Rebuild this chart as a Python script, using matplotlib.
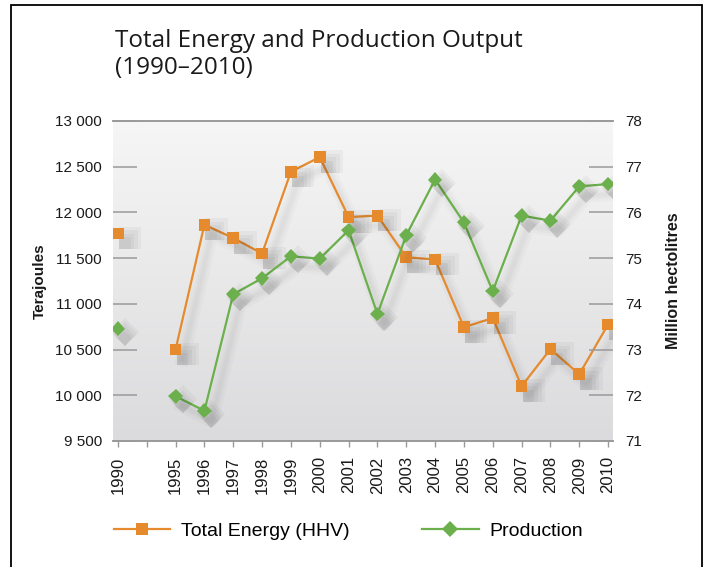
import numpy as np
import matplotlib
matplotlib.use("Agg")
import matplotlib.pyplot as plt
import matplotlib.patheffects as pe
from matplotlib.ticker import FuncFormatter, FixedLocator
from matplotlib.lines import Line2D
from matplotlib.patches import Rectangle
from matplotlib.colors import LinearSegmentedColormap
from matplotlib.transforms import Affine2D

plt.rcParams['font.family'] = ['Liberation Sans', 'DejaVu Sans']

# ---- data ----
years = ["1990", "", "1995", "1996", "1997", "1998", "1999", "2000", "2001",
         "2002", "2003", "2004", "2005", "2006", "2007", "2008", "2009", "2010"]
energy = [11770, np.nan, 10500, 11865, 11720, 11550, 12445, 12605, 11950,
          11965, 11510, 11485, 10745, 10845, 10100, 10505, 10230, 10775]
production = [73.46, np.nan, 71.98, 71.66, 74.21, 74.56, 75.04, 74.99, 75.61,
              73.78, 75.50, 76.72, 75.78, 74.28, 75.93, 75.82, 76.57, 76.62]
left_ticks = [9500, 10000, 10500, 11000, 11500, 12000, 12500, 13000]
right_ticks = [71, 72, 73, 74, 75, 76, 77, 78]

orange = "#E68A2E"
green = "#6BB04C"
grid_gray = "#9a9a9a"
text_col = "#1a1a1a"


class SoftShadow(pe.AbstractPathEffect):
    """Blurred drop shadow for markers: nested, scaled, translucent fills."""

    def __init__(self, offset=(5, -7), scales=(1.0, 1.3, 1.6, 1.9), alpha=0.035):
        super().__init__(offset)
        self._scales = scales
        self._alpha = alpha

    def draw_path(self, renderer, gc, tpath, affine, rgbFace=None):
        for s in self._scales:
            gc0 = renderer.new_gc()
            gc0.copy_properties(gc)
            gc0.set_linewidth(0)
            gc0.set_foreground("none")
            gc0.set_alpha(self._alpha)
            aff = Affine2D().scale(s) + affine + self._offset_transform(renderer)
            renderer.draw_path(gc0, tpath, aff, (0, 0, 0))
            gc0.restore()


fig = plt.figure(figsize=(7.09, 5.67), dpi=100)
fig.patch.set_facecolor("white")

# outer frame
fig.add_artist(Rectangle((11 / 709, -0.05), (702 - 11) / 709, 1 - 5 / 567 + 0.05,
                         transform=fig.transFigure, fill=False, edgecolor="black",
                         linewidth=1.3))

ax = fig.add_axes([113 / 709, 1 - 441 / 567, 500 / 709, 320 / 567])
ax2 = ax.twinx()

# gradient background
grad = np.linspace(0, 1, 256).reshape(-1, 1)
cmap = LinearSegmentedColormap.from_list("bg", ["#f6f6f6", "#dbdbdd"])
ax.imshow(grad, extent=[0, 1, 0, 1], transform=ax.transAxes, cmap=cmap,
          aspect="auto", zorder=0, interpolation="bicubic")
ax.patch.set_visible(False)

x = np.arange(len(years))

off = (5, -7)
line_shadow = [pe.SimpleLineShadow(offset=off, shadow_color="black", alpha=a, linewidth=w)
               for w, a in ((10, 0.02), (6, 0.02), (3, 0.02))] + [pe.Normal()]
mark_shadow = [SoftShadow(offset=off), pe.Normal()]

for a, vals, col, mk, ms in ((ax, energy, orange, "s", 8.5),
                             (ax2, production, green, "D", 7.5)):
    a.plot(x, vals, color=col, lw=1.6, zorder=3, path_effects=line_shadow)
    a.plot(x, vals, linestyle="none", marker=mk, markersize=ms, color=col,
           markeredgewidth=0, zorder=4, path_effects=mark_shadow)

ax.set_xlim(-0.17, 17.17)
ax.set_ylim(9500, 13000)
ax2.set_ylim(71, 78)

ax.yaxis.set_major_locator(FixedLocator(left_ticks))
ax.yaxis.set_major_formatter(FuncFormatter(lambda v, p: f"{int(v):,}".replace(",", " ")))
ax2.yaxis.set_major_locator(FixedLocator(right_ticks))

ax.set_xticks(x)
ax.set_xticklabels(years, rotation=90)

for a in (ax, ax2):
    for s in ("left", "right"):
        a.spines[s].set_visible(False)
    a.spines["top"].set_color(grid_gray)
    a.spines["top"].set_linewidth(1.2)
    a.spines["bottom"].set_color(grid_gray)
    a.spines["bottom"].set_linewidth(1.2)

ax.tick_params(axis="y", direction="in", length=17, width=1.1, color=grid_gray,
               pad=8, labelsize=11, labelcolor=text_col)
ax2.tick_params(axis="y", direction="in", length=17, width=1.1, color=grid_gray,
                pad=9, labelsize=11, labelcolor=text_col)
ax.tick_params(axis="x", direction="out", length=4, width=1.0, color=grid_gray,
               pad=7, labelsize=12, labelcolor=text_col)

ax.set_ylabel("Terajoules", fontsize=11, fontweight="bold", color=text_col, labelpad=6)
ax2.set_ylabel("Million hectolitres", fontsize=11.5, fontweight="bold", color=text_col,
               labelpad=17)

fig.text(115 / 709, 1 - 29 / 567, "Total Energy and Production Output\n(1990\u20132010)",
         fontsize=17.5, color=text_col, ha="left", va="top", linespacing=1.17,
         family=["Open Sans", "DejaVu Sans"])

handles = [Line2D([], [], color=orange, lw=1.6, marker="s", markersize=8.5,
                  markeredgewidth=0),
           Line2D([], [], color=green, lw=1.6, marker="D", markersize=8,
                  markeredgewidth=0)]
fig.legend(handles, ["Total Energy (HHV)", "Production"], loc="center left",
           bbox_to_anchor=(96 / 709, 1 - 531 / 567), ncol=2, frameon=False,
           fontsize=14, handlelength=2.9, handletextpad=0.55, columnspacing=3.75)

fig.savefig("out.png", dpi=100, facecolor="white")
